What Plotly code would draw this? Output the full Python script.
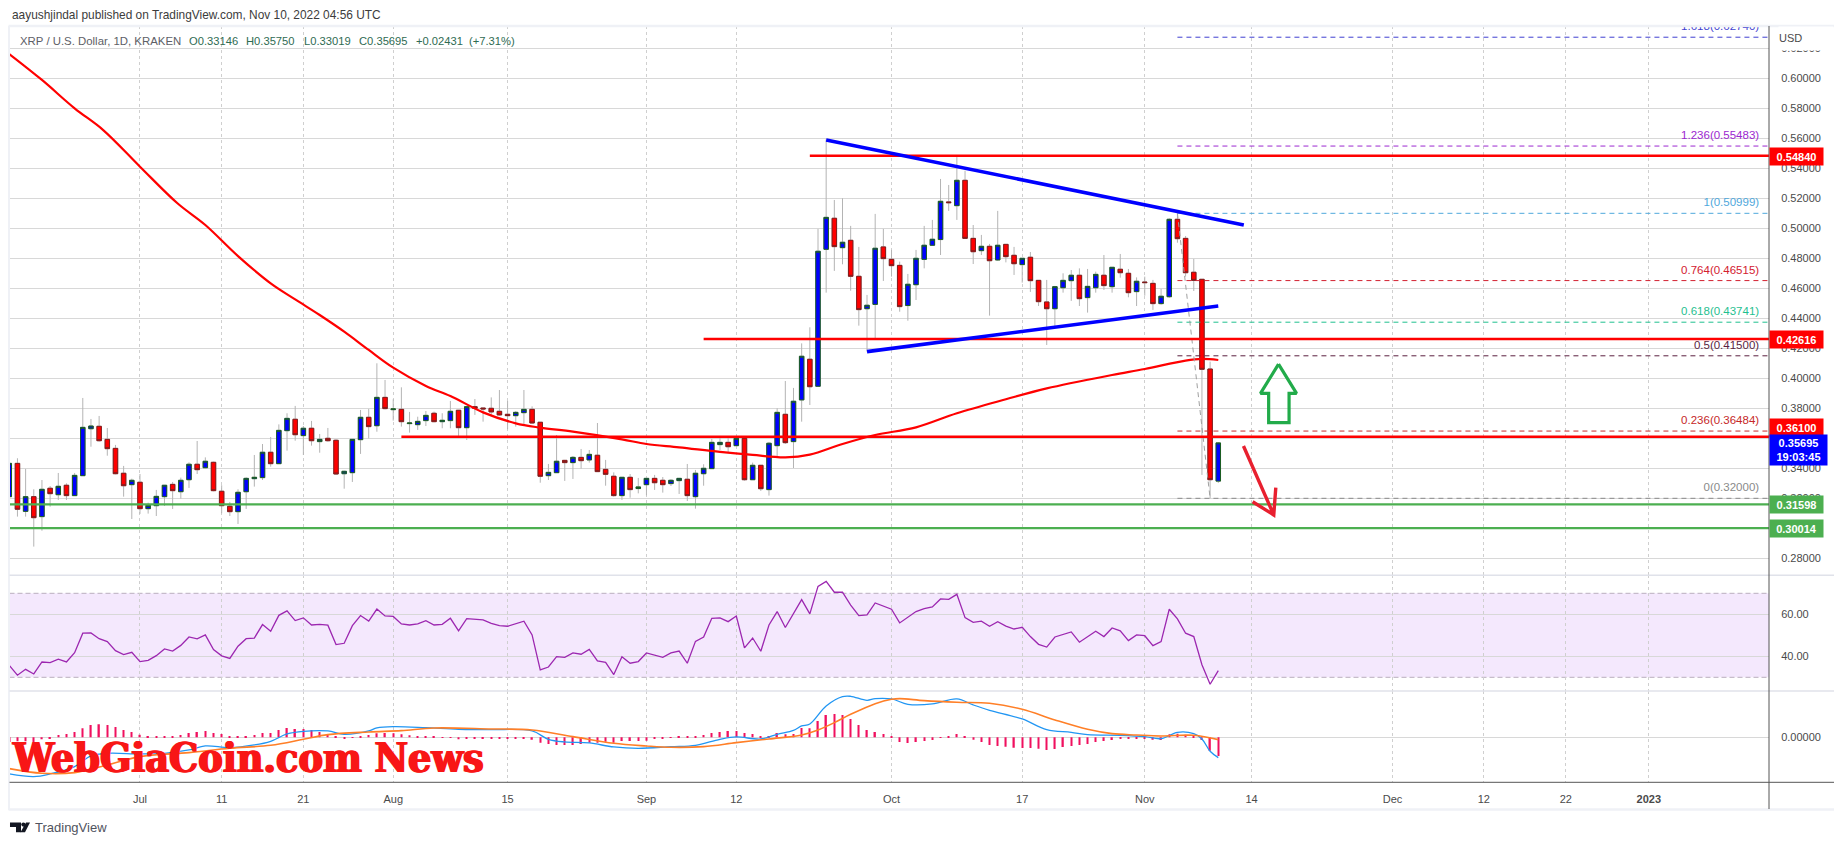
import pandas as pd
import plotly.graph_objects as go

W, H = 1834, 845
AXIS_X, LEFT_X = 1769, 9.5
FONT = "Liberation Sans"

def px(x): return x / W
def py(y): return 1 - y / H

# ---- daily candles from 2022-06-15 ----
OPEN = [.3211,.3433,.3113,.3211,.3078,.3267,.3224,.3287,.3218,.3351,
 .3664,.3680,.3593,.3533,.3367,.3291,
 .3307,.3131,.3151,.3211,.3293,.3244,.3324,.3427,.3404,.3440,
 .3247,.3147,.3111,.3244,.3331,.3338,.3507,.3431,.3651,.3727,
 .3618,.3667,.3578,.3600,.3587,.3364,.3371,.3591,.3740,.3684,.3873,
 .3791,.3793,.3698,.3691,.3718,.3767,.3711,.3718,.3787,.3671,
 .3811,.3802,.3800,.3780,.3760,.3751,.3771,.3793,.3707,.3351,
 .3371,.3453,.3438,.3473,.3456,.3487,.3393,.3347,.3218,.3340,.3265,
 .3291,.3333,.3320,.3298,.3318,.3327,.3211,.3364,.3398,.3558,
 .3573,.3551,.3600,.3324,.3420,.3258,.3551,.3760,.3578,.3856,
 .4127,.3947,.4860,.5067,.4871,.4920,.4680,.4464,.4493,.4876,
 .4793,.4753,.4485,.4624,.4793,.4887,.4925,.5176,.5151,.5320,
 .4933,.4851,.4880,.4789,.4893,.4820,.4758,.4807,.4653,.4509,
 .4464,.4604,.4651,.4687,.4538,.4604,.4687,.4611,.4727,.4700,.4578,
 .4642,.4633,.4498,.4544,.5060,.4933,.4707,.4660,.4062,.33146]
HIGH = [.3467,.3467,.3396,.3260,.3322,.3282,.3369,.3300,.3369,.3869,
 .3729,.3749,.3669,.3556,.3416,.3331,
 .3362,.3171,.3256,.3287,.3309,.3338,.3440,.3582,.3473,.3444,
 .3287,.3176,.3260,.3340,.3489,.3562,.3609,.3693,.3767,.3816,
 .3682,.3716,.3629,.3669,.3593,.3384,.3593,.3789,.3796,.4100,.3989,
 .3860,.3940,.3776,.3744,.3782,.3778,.3767,.3849,.3789,.3816,
 .3862,.3802,.3873,.3922,.3849,.3782,.3922,.3813,.3707,.3429,
 .3622,.3456,.3482,.3529,.3522,.3702,.3456,.3373,.3340,.3362,.3336,
 .3333,.3356,.3342,.3327,.3336,.3429,.3389,.3427,.3596,.3616,
 .3607,.3600,.3600,.3438,.3422,.3576,.3800,.3982,.3936,.4233,
 .4340,.4996,.5593,.5189,.5200,.5016,.4876,.4556,.5096,.4996,
 .4856,.4778,.4696,.4856,.5016,.5056,.5329,.5289,.5489,.5384,
 .5022,.4956,.4896,.5116,.4893,.4876,.4800,.4842,.4653,.4656,
 .4616,.4700,.4722,.4733,.4729,.4711,.4822,.4740,.4829,.4729,.4673,
 .4678,.4656,.4596,.5067,.5104,.4949,.4796,.4660,.4111,.3575]
LOW = [.2967,.3078,.3078,.2878,.2984,.3144,.3189,.3189,.3218,.3351,
 .3544,.3578,.3484,.3360,.3211,.3062,
 .3096,.3098,.3082,.3149,.3129,.3198,.3269,.3362,.3400,.3247,
 .3100,.3082,.3029,.3129,.3278,.3322,.3411,.3431,.3518,.3584,
 .3489,.3551,.3504,.3578,.3356,.3264,.3309,.3496,.3600,.3644,.3793,
 .3718,.3678,.3638,.3656,.3682,.3707,.3667,.3667,.3616,.3589,
 .3756,.3711,.3756,.3751,.3660,.3678,.3696,.3698,.3304,.3322,
 .3371,.3316,.3329,.3398,.3438,.3376,.3284,.3211,.3189,.3204,.3233,
 .3220,.3256,.3238,.3282,.3229,.3182,.3131,.3284,.3398,.3522,
 .3507,.3549,.3318,.3324,.3249,.3218,.3482,.3562,.3402,.3711,
 .3822,.3947,.4571,.4716,.4760,.4584,.4351,.4178,.4264,.4649,
 .4678,.4444,.4384,.4522,.4733,.4882,.4822,.5116,.5056,.4929,
 .4762,.4822,.4418,.4784,.4773,.4689,.4638,.4576,.4482,.4222,
 .4349,.4571,.4516,.4482,.4438,.4571,.4589,.4571,.4671,.4540,.4482,
 .4551,.4456,.4491,.4536,.4904,.4678,.4582,.3356,.3200,.33019]
CLOSE = [.3433,.3127,.3211,.3071,.3260,.3231,.3280,.3218,.3353,.3673,
 .3682,.3584,.3531,.3364,.3284,.3320,
 .3131,.3153,.3213,.3287,.3251,.3320,.3427,.3391,.3447,.3251,
 .3151,.3111,.3240,.3333,.3340,.3507,.3431,.3653,.3733,.3624,
 .3667,.3584,.3593,.3584,.3362,.3380,.3593,.3740,.3678,.3873,.3798,
 .3796,.3711,.3702,.3713,.3753,.3711,.3720,.3780,.3671,.3811,
 .3800,.3796,.3776,.3756,.3751,.3773,.3793,.3702,.3347,.3373,
 .3447,.3438,.3473,.3451,.3493,.3378,.3360,.3218,.3340,.3258,.3276,
 .3333,.3304,.3291,.3320,.3333,.3218,.3367,.3400,.3573,.3573,
 .3544,.3600,.3324,.3420,.3264,.3567,.3773,.3571,.3847,.4147,
 .3944,.4847,.5073,.4878,.4907,.4680,.4458,.4487,.4867,.4798,
 .4751,.4478,.4627,.4800,.4887,.4927,.5180,.5171,.5320,.4933,
 .4844,.4880,.4784,.4887,.4811,.4764,.4800,.4651,.4511,.4464,
 .4611,.4653,.4687,.4531,.4613,.4693,.4618,.4740,.4704,.4571,.4647,
 .4638,.4498,.4547,.5060,.4931,.4704,.4653,.4060,.3324,.35695]

RSI = [35.7,31.0,33.8,31.6,37.3,37.0,38.6,37.3,41.7,51.0,51.1,48.4,47.0,42.7,40.8,41.9,
 37.5,38.1,40.3,43.5,42.5,45.2,49.2,48.3,50.2,43.2,40.2,39.0,44.8,48.4,48.7,55.1,51.9,59.5,61.6,57.0,
 58.3,54.9,55.2,54.8,45.6,46.2,54.6,59.4,56.8,62.5,59.2,
 59.0,55.4,54.9,55.4,57.0,54.9,55.2,58.1,52.1,57.9,57.6,57.3,55.7,54.6,54.3,55.6,56.7,50.2,33.5,34.9,
 39.8,39.5,41.6,41.0,43.3,37.8,37.1,31.3,39.8,36.7,37.5,
 41.6,40.5,39.5,41.6,42.5,36.7,47.1,49.2,58.1,58.3,56.5,59.2,44.0,48.7,42.4,54.9,61.3,53.7,60.5,67.0,
 60.2,73.3,75.7,70.5,70.5,64.4,59.4,59.7,65.4,63.8,
 62.4,55.9,58.6,61.3,62.7,63.5,67.3,67.1,69.5,58.4,56.2,56.7,54.3,56.5,54.4,53.0,53.8,49.4,45.7,44.4,
 49.2,50.5,51.6,46.7,49.2,51.9,49.4,53.5,52.1,47.5,50.2,
 49.8,45.1,47.0,62.4,57.8,51.0,49.4,36.0,26.7,33.2]

# MACD histogram, in units of MACD_UNIT
MACD_UNIT = 1 / 6000
HIST = [-14,-12,-12,-14,-6,-3,7,10,16,27,37,39,37,31,22,16,
 8,1,2,2,3,7,13,16,19,13,10,4,3,4,7,13,13,22,28,25,25,22,16,10,2,-5,-2,2,7,12,13,
 12,9,6,3,1,1,-1,-2,-6,-5,-4,-3,-3,-4,-3,-4,-5,-7,-16,-20,-23,-23,-23,-20,-16,-16,-13,-16,-11,-11,-11,
 -10,-4,-3,-1,3,1,3,7,13,16,19,19,13,10,4,3,13,9,10,28,27,49,67,70,67,55,37,22,16,10,
 1,-14,-17,-14,-11,-8,-1,2,10,3,-7,-14,-23,-26,-28,-31,-32,-32,-34,-38,-35,-29,-26,-23,-20,-14,-11,-8,-5,-5,-5,
 -5,-7,-8,9,11,8,3,-8,-40,-56]

SMA_DATES = ["2022-06-15","2022-06-19","2022-06-23","2022-06-26 12:00","2022-07-01","2022-07-05 14:00","2022-07-09","2022-07-13",
 "2022-07-17","2022-07-20","2022-07-23","2022-07-26","2022-07-29","2022-08-01","2022-08-05","2022-08-08","2022-08-12",
 "2022-08-16","2022-08-19","2022-08-23","2022-08-29","2022-09-01","2022-09-05","2022-09-10","2022-09-14","2022-09-18",
 "2022-09-21","2022-09-25","2022-09-29","2022-10-04","2022-10-09","2022-10-15","2022-10-20","2022-10-28","2022-11-01",
 "2022-11-06","2022-11-08","2022-11-10"]
SMA_VALUES = [.6162,.5989,.5800,.5655,.5411,.5167,.5022,.4815,.4633,.4526,.4422,.4311,.4189,.4071,.3949,.3882,.3773,
 .3700,.3671,.3644,.3593,.3562,.3540,.3509,.3489,.3473,.3491,.3562,.3622,.3673,.3767,.3860,.3933,.4022,.4062,.4118,.4129,.4122]

MACD_DATES = ["2022-06-15","2022-06-18","2022-06-20","2022-06-23","2022-06-25","2022-06-27","2022-07-01","2022-07-04",
 "2022-07-07","2022-07-09","2022-07-12","2022-07-15","2022-07-17","2022-07-19","2022-07-21","2022-07-24","2022-07-26",
 "2022-07-29","2022-07-30","2022-08-01","2022-08-05","2022-08-09","2022-08-13","2022-08-18","2022-08-20","2022-08-22",
 "2022-08-25","2022-08-28","2022-08-31","2022-09-04","2022-09-07","2022-09-10","2022-09-12","2022-09-15","2022-09-17",
 "2022-09-19","2022-09-20","2022-09-21","2022-09-23","2022-09-25","2022-09-26","2022-09-28","2022-09-29","2022-10-01",
 "2022-10-03","2022-10-06","2022-10-09","2022-10-11","2022-10-13","2022-10-17","2022-10-20","2022-10-23","2022-10-25",
 "2022-10-29","2022-11-01","2022-11-03","2022-11-05","2022-11-07","2022-11-08","2022-11-09","2022-11-10"]
MACD_VALUES = [-.01833,-.01967,-.01833,-.01467,-.00933,-.00800,-.00833,-.00800,-.00633,-.00433,-.00517,-.00383,-.00200,
 .00167,.00300,.00317,.00150,.00317,.00467,.00533,.00483,.00400,.00383,.00317,-.00100,-.00233,-.00283,-.00483,-.00550,
 -.00467,-.00400,-.00100,.00017,-.00083,.00150,.00350,.00567,.00667,.01567,.02033,.02050,.01850,.01933,.01917,.01650,
 .01667,.01917,.01617,.01350,.00917,.00383,.00250,.00133,.00100,.00033,-.00067,.00250,.00183,-.00083,-.00700,-.01017]

SIGNAL_DATES = ["2022-06-15","2022-06-19","2022-06-23","2022-06-27","2022-07-01","2022-07-07","2022-07-12","2022-07-17",
 "2022-07-21","2022-07-24","2022-07-29","2022-08-02","2022-08-06","2022-08-13","2022-08-18","2022-08-23","2022-08-28",
 "2022-09-01","2022-09-04","2022-09-08","2022-09-12","2022-09-16","2022-09-20","2022-09-22","2022-09-24","2022-09-26",
 "2022-09-29","2022-10-01","2022-10-02","2022-10-05","2022-10-09","2022-10-13","2022-10-17","2022-10-21","2022-10-25",
 "2022-10-28","2022-10-31","2022-11-03","2022-11-07","2022-11-10"]
SIGNAL_VALUES = [-.01567,-.01800,-.01767,-.01383,-.00967,-.00767,-.00550,-.00400,-.00100,.00133,.00267,.00333,.00467,
 .00417,.00367,.00033,-.00300,-.00433,-.00500,-.00467,-.00267,-.00083,.00117,.00367,.00733,.01150,.01683,.01900,.01933,
 .01833,.01750,.01700,.01400,.00867,.00400,.00183,.00117,.00067,.00100,-.00117]

TICK_DATES = ["2022-07-01","2022-07-11","2022-07-21","2022-08-01","2022-08-15","2022-09-01","2022-09-12","2022-10-01",
 "2022-10-17","2022-11-01","2022-11-14 02:00","2022-12-01 08:00","2022-12-12 12:00","2022-12-22 13:00","2023-01-01 17:00"]
TICK_LABELS = ["Jul","11","21","Aug","15","Sep","12","Oct","17","Nov","14","Dec","12","22","<b>2023</b>"]

PRICE_TICKS = [.28,.30,.32,.34,.36,.38,.40,.42,.44,.46,.48,.50,.52,.54,.56,.58,.60,.62]

RANGE_START, RANGE_END = "2022-06-15 00:40", "2023-01-16 10:00"
FIB_LABEL_X = "2023-01-15 05:00"
FIB_START = "2022-11-05"
FIB_LEVELS = [.62740,.55483,.50999,.46515,.43741,.41500,.36484,.32000]
FIB_NAMES = ["1.618","1.236","1","0.764","0.618","0.5","0.236","0"]
FIB_COLORS = ["#3f3fd0","#9c27d0","#4fa8dc","#d3202f","#1fc08f","#5b1f3f","#c62828","#8a8a8a"]

RES_LEVELS = [.54840,.42616,.36100]
RES_STARTS = ["2022-09-21","2022-09-08","2022-08-02"]
SUP_LEVELS = [.31598,.30014]
TREND_A_X, TREND_A_Y = ["2022-09-23","2022-11-13 03:00"], [.5589,.5022]
TREND_B_X, TREND_B_Y = ["2022-09-28","2022-11-10"], [.4178,.4482]
FIB_TREND_X, FIB_TREND_Y = ["2022-11-05","2022-11-09"], [.50999,.32000]
UP_ARROW_X = ["2022-11-17 09:00","2022-11-19 14:00","2022-11-18 16:00","2022-11-18 16:00","2022-11-16 04:00","2022-11-16 04:00","2022-11-15 04:00","2022-11-17 09:00"]
UP_ARROW_Y = [.4095,.3899,.3899,.3704,.3704,.3899,.3899,.4095]
DOWN_ARROW_X = ["2022-11-13 02:00","2022-11-16 19:00","2022-11-14 05:00","2022-11-16 19:00","2022-11-17 01:00"]
DOWN_ARROW_Y = [.3549,.3089,.3177,.3089,.3271]

assert len(OPEN)==len(HIGH)==len(LOW)==len(CLOSE)==len(RSI)==len(HIST)==149, (len(OPEN),len(HIGH),len(LOW),len(CLOSE),len(RSI),len(HIST))
assert len(SMA_DATES)==len(SMA_VALUES) and len(MACD_DATES)==len(MACD_VALUES) and len(SIGNAL_DATES)==len(SIGNAL_VALUES)

dates = pd.date_range("2022-06-15", periods=len(OPEN)).strftime("%Y-%m-%d").tolist()
body_hi = [max(o, c) for o, c in zip(OPEN, CLOSE)]
body_lo = [min(o, c) for o, c in zip(OPEN, CLOSE)]

BLUE, RED, GREEN = "#0000ff", "#ff0000", "#4caf50"
fig = go.Figure()

# wicks (grey), then bodies with their own outline
fig.add_trace(go.Candlestick(x=dates, open=OPEN, high=HIGH, low=LOW, close=CLOSE, xaxis="x", yaxis="y", whiskerwidth=0,
    increasing=dict(line=dict(color="#b4b4b4", width=1), fillcolor=BLUE),
    decreasing=dict(line=dict(color="#b4b4b4", width=1), fillcolor=RED)))
fig.add_trace(go.Candlestick(x=dates, open=OPEN, high=body_hi, low=body_lo, close=CLOSE, xaxis="x", yaxis="y", whiskerwidth=0,
    increasing=dict(line=dict(color="#1b5e20", width=1), fillcolor=BLUE),
    decreasing=dict(line=dict(color="#7f1d1d", width=1), fillcolor=RED)))

def line(x, y, color, width, dash=None, ax=("x", "y"), shape="linear"):
    fig.add_trace(go.Scatter(x=x, y=y, mode="lines", xaxis=ax[0], yaxis=ax[1],
                             line=dict(color=color, width=width, dash=dash, shape=shape)))

line(SMA_DATES, SMA_VALUES, "#ff0000", 2.2, shape="spline")

for lvl, name, col in zip(FIB_LEVELS, FIB_NAMES, FIB_COLORS):
    line([FIB_START, RANGE_END], [lvl, lvl], col, 1, "5px,4px")
    fig.add_trace(go.Scatter(x=[FIB_LABEL_X], y=[lvl + 0.0027], mode="text", text=[f"{name}({lvl:.5f})"],
                             textposition="top left", textfont=dict(family=FONT, size=11.5, color=col),
                             cliponaxis=True, xaxis="x", yaxis="y"))
line(FIB_TREND_X, FIB_TREND_Y, "#a0a0a0", 1, "5px,4px")

for lvl, start in zip(RES_LEVELS, RES_STARTS):
    line([start, RANGE_END], [lvl, lvl], RED, 2.4)
for lvl in SUP_LEVELS:
    line([RANGE_START, RANGE_END], [lvl, lvl], GREEN, 2.4)
line(TREND_A_X, TREND_A_Y, BLUE, 3.6)
line(TREND_B_X, TREND_B_Y, BLUE, 3.6)
line(UP_ARROW_X, UP_ARROW_Y, "#22ab4a", 3.2)
line(DOWN_ARROW_X, DOWN_ARROW_Y, "#e8202f", 3.4)

line(dates, RSI, "#9c27b0", 1.3, ax=("x2", "y2"))

fig.add_trace(go.Bar(x=dates, y=[h * MACD_UNIT for h in HIST], marker=dict(color="#f0105f", line=dict(width=0)),
                     width=1.4 / 8.17 * 86400000, xaxis="x3", yaxis="y3"))
line(MACD_DATES, MACD_VALUES, "#2196f3", 1.3, ax=("x3", "y3"), shape="spline")
line(SIGNAL_DATES, SIGNAL_VALUES, "#ff7f27", 1.6, ax=("x3", "y3"), shape="spline")

TXT = "#4a4a4a"
GRID = "#d8d8d8"
VGRID = "#cfcfcf"
def xaxis(anchor, show):
    return dict(type="date", domain=[px(LEFT_X), px(AXIS_X)], range=[RANGE_START, RANGE_END], anchor=anchor,
                tickmode="array", tickvals=TICK_DATES, ticktext=TICK_LABELS, showticklabels=show,
                showgrid=True, gridcolor=VGRID, griddash="dot", gridwidth=1, zeroline=False, showline=False,
                ticks="outside" if show else "", ticklen=6, tickcolor="rgba(0,0,0,0)",
                tickfont=dict(family=FONT, size=11, color=TXT), rangeslider=dict(visible=False))
def yaxis(anchor, top, bottom, rng, vals, text):
    return dict(domain=[py(bottom), py(top)], range=rng, anchor=anchor, side="right", tickmode="array",
                tickvals=vals, ticktext=text, showgrid=True, gridcolor=GRID, gridwidth=1, zeroline=False,
                showline=False, ticks="outside", ticklen=9, tickcolor="rgba(0,0,0,0)",
                tickfont=dict(family=FONT, size=11, color=TXT))

shapes = [
    dict(type="rect", xref="x2 domain", yref="y2", x0=0, x1=1, y0=30, y1=70, fillcolor="rgba(170,80,240,0.13)",
         line=dict(width=0), layer="below"),
]
for v in (30, 70):
    shapes.append(dict(type="line", xref="x2 domain", yref="y2", x0=0, x1=1, y0=v, y1=v, layer="below",
                       line=dict(color="#b9aebf", width=1, dash="5px,3px")))
def hline(y, x0, x1, color, width):
    return dict(type="line", xref="paper", yref="paper", x0=px(x0), x1=px(x1), y0=py(y), y1=py(y),
                line=dict(color=color, width=width), layer="above")
def vline(x, y0, y1, color, width):
    return dict(type="line", xref="paper", yref="paper", x0=px(x), x1=px(x), y0=py(y0), y1=py(y1),
                line=dict(color=color, width=width), layer="above")
FRAME = "#eff1f6"
shapes += [
    hline(26, 8.5, W, FRAME, 2.5), hline(809.5, 8.5, W, FRAME, 2.5), vline(9, 26, 810, FRAME, 2),
    hline(575.3, LEFT_X, W, "#e0e2ea", 1.5), hline(691, LEFT_X, W, "#e0e2ea", 1.5),
    hline(782.3, LEFT_X, W, "#555555", 1), vline(AXIS_X, 26, 809, "#555555", 1),
]
# TradingView logo
def poly(pts):
    return "M" + " L".join(f"{px(a):.5f},{py(b):.5f}" for a, b in pts) + " Z"
for pts in ([(10, 822.5), (21, 822.5), (21, 832.3), (16, 832.3), (16, 827), (10, 827)],
            [(20.5, 832.3), (26, 822.5), (30, 822.5), (25, 832.3)]):
    shapes.append(dict(type="path", xref="paper", yref="paper", path=poly(pts), fillcolor="#131722", line=dict(width=0)))
shapes.append(dict(type="circle", xref="paper", yref="paper", x0=px(21.3), x1=px(25.5), y0=py(822.5), y1=py(826.7),
                   fillcolor="#131722", line=dict(width=0)))

ann = []
def text(x, y, s, size=11, color=TXT, anchor="left", family=FONT, **kw):
    ann.append(dict(xref="paper", yref="paper", x=px(x), y=py(y), text=s, showarrow=False, xanchor=anchor, yanchor="middle",
                    font=dict(family=family, size=size, color=color, **kw.pop("font_extra", {})), **kw))

text(10, 15, "aayushjindal published on TradingView.com, Nov 10, 2022 04:56 UTC", size=11.9, color="#3c3c3c")
text(18, 41.5, "XRP / U.S. Dollar, 1D, KRAKEN", size=11.4, color="#5d6066")
for x, s in [(187, "O0.33146"), (244.4, "H0.35750"), (301.7, "L0.33019"), (357, "C0.35695"),
             (414, "+0.02431"), (466.6, "(+7.31%)")]:
    text(x, 41.5, s, size=11.2, color="#2f6b52")
text(33, 827, "TradingView", size=13, color="#50535e")
text(LEFT_X + 0.5, 758, "WebGiaCoin.com News", size=40.8, color="#f81616", family="DejaVu Serif Condensed",
     font_extra=dict(weight=700, shadow="1px 0 0 #f81616, -1px 0 0 #f81616"))

# USD header covers the clipped top tick
ann.append(dict(xref="paper", yref="paper", x=px(AXIS_X + 9), y=py(26.5), xanchor="left", yanchor="top", width=54, height=22.5,
                text="USD", showarrow=False, align="left", bgcolor="#ffffff", borderpad=0, valign="middle",
                font=dict(family=FONT, size=11, color=TXT)))

# price boxes on the axis
for yc, s, bg, wdt, hgt in [(156.7, "0.54840", RED, 53, 17), (339.7, "0.42616", RED, 53, 17), (428, "0.36100", RED, 53, 18),
                            (504.3, "0.31598", GREEN, 53, 17), (528.3, "0.30014", GREEN, 53, 17),
                            (450, "0.35695<br>19:03:45", BLUE, 57, 30)]:
    ann.append(dict(xref="paper", yref="paper", x=px(AXIS_X), y=py(yc), xanchor="left", yanchor="middle", width=wdt, height=hgt,
                    text=f"<b>{s}</b>", showarrow=False, align="center", valign="middle", bgcolor=bg, borderpad=0,
                    font=dict(family=FONT, size=11, color="#ffffff")))

fig.update_layout(
    width=W, height=H, margin=dict(l=0, r=0, t=0, b=0), paper_bgcolor="#ffffff", plot_bgcolor="#ffffff",
    showlegend=False, hovermode=False, barmode="overlay", boxgap=0.45, boxgroupgap=0,
    xaxis=xaxis("y", False), xaxis2=xaxis("y2", False), xaxis3=xaxis("y3", True),
    yaxis=yaxis("x", 26, 575.3, [.26867, .63487], PRICE_TICKS, [f"{v:.5f}" for v in PRICE_TICKS]),
    yaxis2=yaxis("x2", 575.3, 691, [23.48, 78.57], [40, 60], ["40.00", "60.00"]),
    yaxis3=yaxis("x3", 691, 782.3, [-.0225, .02315], [0], ["0.00000"]),
    shapes=shapes, annotations=ann,
)
fig.write_html("out.html", config=dict(displayModeBar=False), post_script="document.body.style.margin='0';document.body.style.overflow='hidden';")
